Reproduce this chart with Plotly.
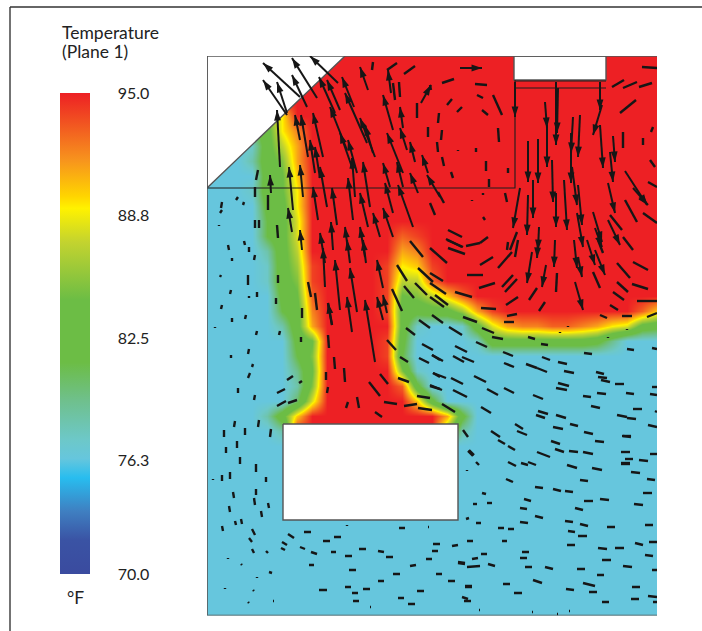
import math
import plotly.graph_objects as go

# Measurement plane coordinates (same scale on both axes); y grows downward
grid_x = [207 + 15 * i for i in range(31)]
grid_y = [56 + 15 * j for j in range(38)]

# Temperature (deg F), one row per grid_y
temp_rows = [
    [95]*31,
    [95]*31,
    [95]*31,
    [95]*31,
    [76,76,76,83,85,89]+[95]*25,
    [76,76,77,80,83,89,92]+[95]*24,
    [76,76,76,77,83,87,91]+[95]*24,
    [76,76,76,78,83,85,91]+[95]*24,
    [76,76,76,76,83,84,90]+[95]*24,
    [76,76,76,77,83,84,89]+[95]*24,
    [76,76,76,76,82,83,89]+[95]*24,
    [76,76,76,76,81,83,88]+[95]*24,
    [76,76,76,76,81,83,88]+[95]*6+[93,94]+[95]*16,
    [76,76,76,76,78,83,87]+[95]*6+[91,92]+[95]*16,
    [76,76,76,76,77,83,86,94]+[95]*4+[94,89,90,94]+[95]*15,
    [76,76,76,76,77,83,85,94]+[95]*4+[94,87,87,93]+[95]*15,
    [76,76,76,76,76,82,84,93]+[95]*4+[94,84,85,87,90,93]+[95]*13,
    [76,76,76,76,76,81,83,92]+[95]*4+[94,83,82,83,83,86,91,94]+[95]*9+[93,90],
    [76,76,76,76,76,78,83,91]+[95]*4+[95,83,77,76,76,77,83,88,91,92,92,93,93,92,91,89,88,83,82],
    [76,76,76,76,76,76,82,84]+[95]*4+[94,82,76,76,76,76,77,83,83,83,83,83,83,83,82,79,76,76,76],
    [76,76,76,76,76,76,81,85]+[95]*4+[94,81]+[76]*17,
    [76,76,76,76,76,76,79,84]+[95]*4+[95,85,77]+[76]*16,
    [76,76,76,76,76,76,78,85]+[95]*5+[93,82]+[76]*16,
    [76,76,76,76,76,76,80,88]+[95]*6+[90,82]+[76]*15,
    [76,76,76,76,78,83,90]+[95]*9+[91,82]+[76]*13,
    [76,76,76,76,76,78]+[95]*10+[85,78]+[76]*13,
    [76]*31, [76]*31, [76]*31, [76]*31, [76]*31, [76]*31,
    [76]*31, [76]*31, [76]*31, [76]*31, [76]*31, [76]*31,
]
assert all(len(r) == 31 for r in temp_rows) and len(temp_rows) == 38

# Where each printed label sits along the bar, and the printed labels
bar_ticks = [70.0, 75.93, 82.27, 88.66, 95.0]
bar_labels = ["70.0", "76.3", "82.5", "88.8", "95.0"]
bar_stops = [
    [0.00, "#3a4b9f"], [0.07, "#3a53a4"], [0.13, "#3f7fc1"], [0.20, "#28bdef"],
    [0.24, "#66c6dd"], [0.28, "#6dc8c8"], [0.36, "#6fc08d"], [0.44, "#6cbd45"],
    [0.57, "#6cbd45"], [0.69, "#c3d32f"], [0.76, "#fff200"], [0.785, "#ffd500"],
    [0.86, "#f7941d"], [1.00, "#ed2024"],
]

# Velocity vectors with heads: tail x, tail y, head x, head y
arrows = [
    (300,97,263,63),(317,98,292,58),(338,83,310,56),(287,115,263,80),(287,113,277,82),
    (307,107,292,75),(280,167,277,110),(300,140,295,115),(308,157,301,115),(323,157,313,113),
    (335,113,319,77),(340,110,327,80),(354,107,342,77),(367,143,345,93),(347,150,330,107),
    (368,90,360,67),(391,93,388,70),(393,130,383,95),(403,128,400,107),(421,103,431,85),
    (375,157,360,118),(373,153,365,125),(353,170,340,133),(357,173,348,140),(403,173,387,133),
    (407,150,400,128),(415,162,410,142),(428,173,422,155),(418,193,410,173),(440,197,427,175),
    (390,187,383,163),(403,187,397,162),(370,207,363,162),(355,197,352,158),(327,207,320,167),
    (318,220,313,187),(337,225,332,188),(315,173,310,140),(320,178,315,147),(303,197,300,165),
    (293,210,289,167),(271,193,270,175),(353,220,348,178),(393,213,385,183),(368,227,360,193),
    (413,227,398,185),(380,237,373,213),(393,237,383,208),(292,232,288,208),(302,250,300,230),
    (325,263,320,233),(333,250,331,222),(348,250,345,227),(365,257,360,227),
    (325,287,323,248),(340,310,335,260),(357,312,350,268),(352,332,347,297),(375,362,365,300),
    (383,288,377,260),(383,320,377,297),(387,313,383,295),(366,263,363,240),(350,263,347,240),
    (332,325,328,303),
    (515,82,515,117),(556,82,556,145),(558,88,557,133),(600,82,600,110),(602,105,593,135),
    (545,102,547,128),(547,125,547,167),(573,117,571,153),(580,115,578,157),(600,125,603,168),
    (613,136,615,162),(610,152,613,182),(528,141,528,182),(538,139,538,183),(571,133,571,183),
    (552,160,553,202),(572,167,577,205),(533,180,533,218),(528,195,527,235),(564,180,567,230),
    (556,193,556,227),(578,185,582,225),(520,188,513,228),(608,183,615,213),(625,171,647,205),
    (633,188,648,205),(593,212,602,242),(595,228,602,247),(608,220,620,245),(577,213,583,247),
    (539,227,538,250),(574,240,577,268),(578,257,582,277),(587,240,595,265),(595,250,605,275),
    (555,240,554,267),(532,252,527,283),(575,282,583,310),(546,265,542,287),(538,240,537,258),
    (460,68,482,68),
]

# Short flow marks without heads: x0, y0, x1, y1
dashes = [
    (372,70,373,62),(387,70,397,63),(404,74,415,66),(395,100,393,83),(400,97,399,82),
    (417,118,417,103),(428,137,428,127),(258,170,256,180),(255,187,255,197),(268,195,268,210),
    (277,225,278,238),(222,202,221,208),(222,210,220,213),(238,197,236,200),(244,202,243,205),
    (219,225,219,226),(255,220,255,228),(259,220,259,228),(244,241,245,245),(249,247,249,252),
    (228,245,229,250),(255,255,254,260),(232,258,232,261),(221,275,220,277),(248,275,248,285),
    (278,275,278,283),(231,290,230,294),(257,292,257,297),(249,296,249,298),(276,298,276,304),
    (222,305,221,309),(232,318,232,322),(246,315,245,319),(215,327,215,328),(257,331,256,335),
    (280,331,279,335),(249,349,248,354),(231,355,231,358),(253,364,252,367),(250,373,248,378),
    (287,380,293,376),(299,383,302,381),(277,393,285,389),(238,388,238,393),(255,395,254,400),
    (277,406,286,401),(288,403,297,400),(235,421,234,427),(259,420,258,427),(245,428,245,435),
    (224,430,224,437),(271,429,270,437),
    (308,282,311,297),(315,293,317,310),(328,303,332,325),(328,335,329,348),(334,357,335,369),
    (344,368,345,382),(326,372,326,380),(328,387,327,393),(302,308,302,318),(301,337,301,342),
    (392,289,402,311),(397,265,407,281),(404,286,414,298),(387,340,396,350),(380,374,388,384),
    (369,382,380,396),(384,402,397,404),(404,406,417,404),(418,408,432,410),(357,397,359,408),
    (348,402,346,408),(375,412,382,417),(410,241,423,257),(418,268,433,282),(415,283,427,295),
    (422,344,433,350),(419,320,430,328),(406,328,415,335),(400,357,408,362),(419,358,429,363),
    (432,355,440,360),(398,378,409,382),(433,373,440,377),(430,386,440,389),(417,396,430,398),
    (442,83,454,79),(475,84,487,85),(477,95,483,98),(493,95,502,115),(447,105,452,99),
    (457,112,462,107),(482,110,488,115),(439,113,438,123),(442,130,441,140),(437,142,438,152),
    (442,157,444,166),(451,172,453,178),(458,150,458,151),(476,148,476,152),(498,128,499,142),
    (486,161,486,171),(508,168,508,173),(489,179,489,187),(430,85,431,90),(642,67,657,68),
    (612,87,624,80),(623,88,637,82),(639,87,652,83),(620,113,636,100),(650,160,655,167),
    (653,127,651,132),(643,138,643,145),(623,132,623,148),(505,193,507,202),(483,217,485,220),
    (448,230,462,237),(446,239,462,247),(466,246,480,243),(480,243,488,237),(438,192,444,203),
    (430,203,435,215),(472,200,472,201),(483,193,483,195),(648,182,657,187),(643,213,657,223),
    (623,237,633,250),(625,200,637,222),(610,215,622,230),(517,232,510,250),
    (447,240,463,247),(448,248,465,254),(430,248,447,263),(480,265,493,257),(498,268,512,252),
    (508,242,507,250),(518,240,515,257),(557,273,556,292),(537,288,529,300),(545,302,539,311),
    (593,272,600,288),(598,240,603,253),(617,263,630,278),(617,282,628,292),(613,292,624,300),
    (633,262,648,270),(632,284,648,289),(610,305,618,310),(637,301,657,301),(600,315,607,318),
    (622,316,632,316),(647,317,657,313),(467,275,483,275),(479,288,495,283),(502,287,513,275),
    (505,292,517,279),(506,305,518,297),(455,292,472,297),(481,308,496,309),(507,316,517,314),
    (504,322,514,322),(430,283,446,294),(430,273,443,281),(435,295,448,305),(430,297,444,307),
    (560,332,560,333),(568,326,568,327),(627,329,627,330),(608,337,608,338),(432,315,443,323),
    (449,327,462,335),(463,317,477,322),(482,328,494,333),(492,337,503,339),(528,337,535,339),
    (541,344,548,345),(476,342,487,347),(503,352,513,356),(455,346,467,352),(432,355,443,361),
    (453,356,464,362),(462,357,474,362),(504,363,514,367),(526,364,537,368),(537,368,547,372),
    (542,357,550,360),(558,362,567,364),(564,371,574,373),(584,353,592,354),(627,349,634,350),
    (652,348,657,349),(433,373,446,378),(451,378,463,384),(474,376,486,382),(430,385,442,390),
    (453,390,467,397),(487,389,498,395),(504,388,514,393),(533,395,543,399),(558,383,569,386),
    (556,388,567,390),(596,372,604,374),(598,377,607,378),(601,380,610,382),(615,384,624,384),
    (597,393,606,394),(626,393,634,394),(652,387,657,387),(650,394,657,395),(583,396,591,397),
    (591,406,600,408),(633,409,642,409),(617,415,627,417),(627,418,636,419),(648,425,657,427),
    (655,411,657,412),(442,404,455,412),(481,407,491,413),(538,411,548,414),(536,415,545,418),
    (556,415,566,418),(570,424,578,426),(553,427,563,429),(584,432,593,434),(623,436,631,437),
    (515,424,523,429),(517,431,527,435),(491,431,500,437),(463,430,468,437),
    (237,441,237,448),(226,447,226,453),(240,457,240,464),(256,464,256,472),(213,479,213,480),
    (222,475,222,481),(230,472,230,479),(266,477,266,482),(233,492,234,498),(256,489,256,495),
    (254,498,255,505),(229,506,230,512),(268,503,269,508),(261,511,262,517),(222,526,223,531),
    (235,521,236,525),(241,519,242,524),(252,529,255,535),(249,538,252,542),(252,549,254,553),
    (266,551,268,553),(228,558,228,559),(241,564,242,565),(269,572,272,573),(257,577,257,578),
    (225,588,225,589),(253,590,254,591),(248,602,249,603),(273,601,274,601),
    (288,534,294,538),(304,532,311,532),(282,542,287,545),(281,548,285,550),(300,547,305,549),
    (311,552,317,554),(323,541,330,541),(334,537,341,537),(331,552,336,552),(345,556,352,556),
    (359,549,366,549),(378,551,384,552),(386,557,393,557),(309,565,314,565),(349,570,356,570),
    (393,574,400,574),(378,581,384,581),(345,587,351,587),(319,590,327,590),(363,589,370,589),
    (352,593,358,593),(353,601,359,601),(370,607,371,607),(398,598,404,598),(408,604,415,604),
    (417,591,424,591),(347,525,347,526),(399,528,405,528),(428,527,429,527),(410,566,416,565),
    (426,559,432,559),(432,551,438,551),(433,544,440,544),(452,546,458,545),(467,541,473,541),
    (502,541,507,541),(436,574,442,574),(448,581,455,581),(465,586,472,586),(465,587,472,587),
    (462,597,468,599),(464,601,471,601),(479,610,480,610),(467,567,480,566),(458,562,465,563),
    (458,563,465,564),(472,559,478,558),(481,554,487,554),(488,564,495,566),(466,519,469,518),
    (476,523,481,523),(473,504,477,504),(487,503,492,503),(482,493,486,494),(467,470,467,471),
    (476,462,479,465),(468,451,473,456),(469,450,474,455),(498,440,505,444),(508,446,515,450),
    (537,452,550,457),(551,441,560,444),(555,449,564,452),(569,451,578,452),(583,452,593,454),
    (595,441,604,442),(622,436,631,436),(621,452,630,452),(650,454,657,454),(625,459,633,459),
    (621,463,630,463),(621,464,630,464),(639,460,648,461),(631,472,640,473),(647,479,655,480),
    (643,493,652,493),(634,504,643,505),(645,525,653,525),(607,527,615,527),(565,521,573,522),
    (580,524,588,526),(568,531,575,532),(578,536,587,536),(520,522,528,523),(535,516,543,518),
    (575,508,583,510),(520,508,527,509),(524,499,531,501),(584,501,593,501),(600,499,609,500),
    (535,487,543,488),(553,489,561,491),(565,491,573,492),(580,480,588,481),(506,479,513,482),
    (592,468,602,470),(567,465,577,468),(508,462,516,466),(521,463,528,465),(528,462,536,465),
    (498,528,504,528),(508,529,514,529),(567,545,575,545),(598,548,607,549),(615,548,624,548),
    (635,543,643,545),(649,542,657,542),(645,555,653,556),(602,560,611,560),(623,566,632,567),
    (652,570,657,570),(577,569,585,569),(545,567,553,569),(525,567,532,567),(522,552,529,552),
    (520,558,527,558),(597,575,604,575),(533,580,542,583),(583,583,595,586),(503,584,510,584),
    (514,593,522,593),(566,589,574,590),(589,592,597,592),(632,587,640,587),(648,596,657,597),
    (631,599,639,599),(602,602,609,602),(653,602,657,602),(532,612,533,612),(557,614,558,614),
    (569,611,570,611),
]

# Outline of the modelled room, in plane coordinates
corner_x = [207, 207, 345]
corner_y = [56, 188, 56]
intake_x = [514, 514, 606, 606, 514]
intake_y = [56, 80, 80, 56, 56]
unit_x = [283, 283, 458, 458, 283]
unit_y = [424, 520, 520, 424, 424]
plane_x = [207, 515, 515, None, 515, 606, None, 515, 606]
plane_y = [188, 188, 80, None, 88, 88, None, 81, 81]
border_x = [657, 207, 207, 657]
border_y = [56, 56, 615.5, 615.5]

W, H = 702, 631
INK = "#161616"

def segs(items):
    xs, ys = [], []
    for x0, y0, x1, y1 in items:
        xs += [x0, x1, None]
        ys += [y0, y1, None]
    return xs, ys

fig = go.Figure()
fig.add_trace(go.Heatmap(
    x=grid_x, y=grid_y, z=temp_rows, zmin=70, zmax=95, zsmooth="best",
    colorscale=bar_stops, hoverinfo="skip",
    colorbar=dict(
        x=60 / W, xanchor="left", y=1 - 93 / H, yanchor="top",
        len=481 / H, lenmode="fraction", thickness=30, thicknessmode="pixels",
        outlinewidth=0, xpad=0, ypad=0,
        tickmode="array", tickvals=bar_ticks, ticktext=bar_labels,
        ticks="outside", ticklen=25, tickcolor="rgba(0,0,0,0)",
        tickfont=dict(family="Lato", size=16, color="#222222"),
    ),
))

for mx, my in [(corner_x, corner_y), (intake_x, intake_y), (unit_x, unit_y)]:
    fig.add_trace(go.Scatter(x=mx, y=my, mode="lines", fill="toself", fillcolor="white",
                             line=dict(color="#555555", width=1.4), hoverinfo="skip",
                             showlegend=False))
fig.add_trace(go.Scatter(x=plane_x, y=plane_y, mode="lines", hoverinfo="skip", showlegend=False,
                         line=dict(color="#1c1c1c", width=1.1)))
fig.add_trace(go.Scatter(x=border_x, y=border_y, mode="lines", hoverinfo="skip", showlegend=False,
                         line=dict(color="#555555", width=1.6), cliponaxis=False))

dx, dy = segs(dashes)
fig.add_trace(go.Scatter(x=dx, y=dy, mode="lines", hoverinfo="skip", showlegend=False,
                         line=dict(color=INK, width=2.4), cliponaxis=False))
ax, ay = segs(arrows)
fig.add_trace(go.Scatter(x=ax, y=ay, mode="lines", hoverinfo="skip", showlegend=False,
                         line=dict(color=INK, width=2.0), cliponaxis=False))
fig.add_trace(go.Scatter(
    x=[a[2] for a in arrows], y=[a[3] for a in arrows], mode="markers",
    hoverinfo="skip", showlegend=False, cliponaxis=False,
    marker=dict(symbol="arrow", size=11, color=INK, line=dict(width=0),
                angle=[math.degrees(math.atan2(a[2] - a[0], a[1] - a[3])) for a in arrows]),
))

def note(text, px, py, anchor="left"):
    fig.add_annotation(text=text, xref="paper", yref="paper", x=px / W, y=1 - py / H,
                       showarrow=False, xanchor=anchor, yanchor="middle",
                       font=dict(family="Lato", size=17.5, color="#222222"))

note("Temperature", 60, 32)
note("(Plane 1)", 60, 52)
note("°F", 75, 597, "center")

fig.update_layout(
    width=W, height=H, autosize=False, margin=dict(l=0, r=0, t=0, b=0),
    paper_bgcolor="white", plot_bgcolor="white", showlegend=False,
    xaxis=dict(range=[207, 657], domain=[207 / W, 657 / W], visible=False),
    yaxis=dict(range=[615.5, 56], domain=[(H - 615.5) / H, (H - 56) / H], visible=False),
    shapes=[
        dict(type="line", xref="paper", yref="paper", x0=10 / W, x1=10 / W, y0=0, y1=1 - 7 / H,
             line=dict(color="#444444", width=1.5)),
        dict(type="line", xref="paper", yref="paper", x0=10 / W, x1=1, y0=1 - 7 / H, y1=1 - 7 / H,
             line=dict(color="#333333", width=1.5)),
    ],
)
fig.write_html("out.html", config={"displayModeBar": False},
               post_script="document.body.style.margin='0';document.documentElement.style.overflow='hidden';")
